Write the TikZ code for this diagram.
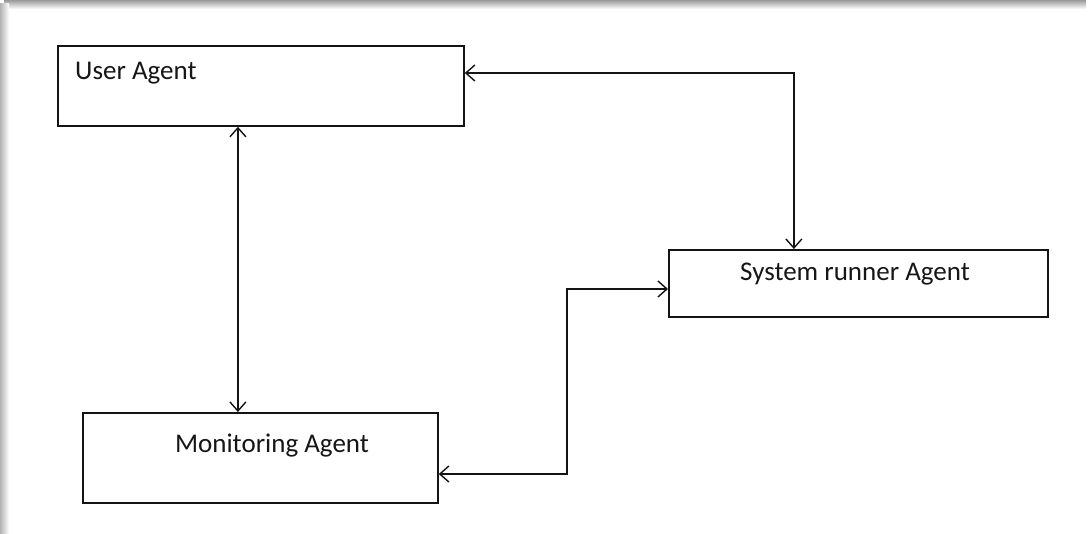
\documentclass[tikz,border=0pt]{standalone}
\usepackage{fontspec}
\setmainfont{Carlito}
\usetikzlibrary{arrows.meta,calc}
\definecolor{inkline}{HTML}{141414}
\definecolor{inktext}{HTML}{161616}
\begin{document}
\begin{tikzpicture}[x=1pt,y=-1pt,
  box/.style={draw=inkline,line width=1.8pt,rectangle,anchor=north west,inner sep=0pt},
  caption/.style={text=inktext,font=\fontsize{27}{31}\selectfont,inner sep=0pt},
  link/.style={draw=inkline,line width=1.5pt,
    {Straight Barb[length=9pt,width=16pt,line width=1.4pt]}-{Straight Barb[length=9pt,width=16pt,line width=1.4pt]}}]
\useasboundingbox (0,0) rectangle (1089,534);
\fill[white] (0,0) rectangle (1089,534);
% page shadow along the top and left edges
\shade[top color=black!40,bottom color=white] (4,0) rectangle (1086,9);
\shade[left color=black!30,right color=white] (0,4) rectangle (9,534);

% agent boxes
\node[box,minimum width=406pt,minimum height=80pt] (ua) at (57,45) {};
\node[box,minimum width=379pt,minimum height=67pt] (sr) at (668,249) {};
\node[box,minimum width=355pt,minimum height=90pt] (mon) at (82,412) {};

% box captions
\node[caption,anchor=base west] (uat) at (75,80) {User Agent};
\node[caption,anchor=base] (srt) at (855,281) {System runner Agent};
\node[caption,anchor=base] (mont) at (272,452) {Monitoring Agent};

% connector end points on the box edges
\coordinate (uaE) at ($(ua.north east)+(0,28)$);
\coordinate (uaS) at ($(ua.south)+(-23,0)$);
\coordinate (srN) at ($(sr.north)+(-64.5,0)$);
\coordinate (srW) at ($(sr.north west)+(0,40)$);
\coordinate (monN) at ($(mon.north)+(-22.5,0)$);
\coordinate (monE) at ($(mon.north east)+(0,62)$);
\coordinate (bend) at (567,0);

% connectors
\draw[link] (uaS) -- (monN);
\draw[link] (uaE) -| (srN);
\draw[link] (monE) -- (monE -| bend) |- (srW);
\end{tikzpicture}
\end{document}
